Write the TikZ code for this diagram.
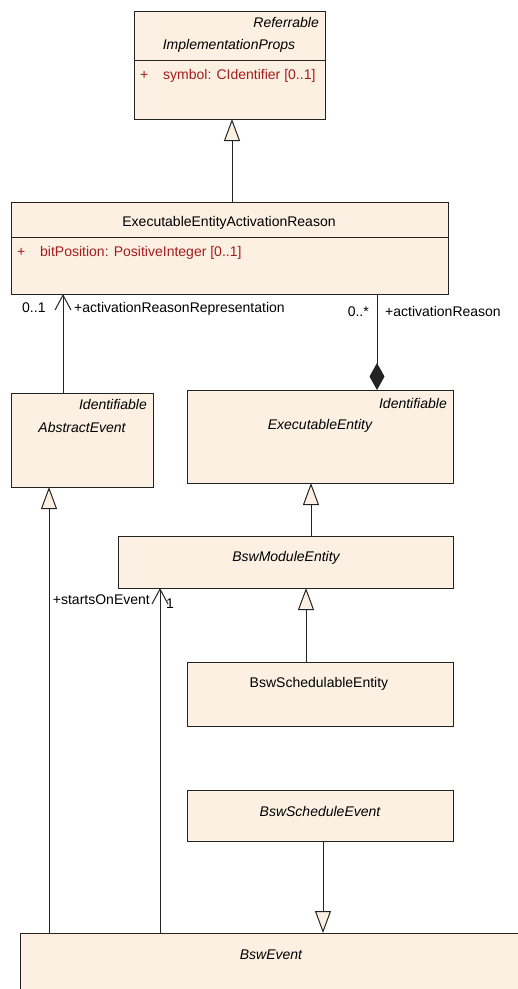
\documentclass[tikz,border=0pt]{standalone}
\usepackage{fontspec}
\setmainfont{Liberation Sans}
\usetikzlibrary{arrows.meta}
\definecolor{boxfill}{RGB}{251,240,226}
\definecolor{attr}{RGB}{165,28,28}
\definecolor{edge}{RGB}{35,35,35}
\begin{document}
\begin{tikzpicture}[x=1pt,y=-1pt,
  cls/.style={draw=edge, line width=1pt, fill=boxfill, rectangle, inner sep=0pt, outer sep=0pt, anchor=north west},
  sepline/.style={draw=edge, line width=1pt},
  txt/.style={inner sep=0pt, font=\fontsize{14}{16}\selectfont, anchor=base},
  ital/.style={inner sep=0pt, font=\fontsize{14}{16}\selectfont\itshape, anchor=base},
  atr/.style={inner sep=0pt, font=\fontsize{14}{16}\selectfont, text=attr, anchor=base west},
  gen/.style={draw=edge, line width=1pt, -{Triangle[length=22pt,width=16pt,fill=boxfill]}},
  nav/.style={draw=edge, line width=1pt, -{Straight Barb[length=15pt,width=16pt]}},
  comp/.style={draw=edge, line width=1pt, -{Diamond[length=27pt,width=15pt]}}
]
\useasboundingbox (0,0) rectangle (518,989);
% classes
\node[cls, minimum width=191pt, minimum height=108pt] (ip) at (134,11) {};
\node[cls, minimum width=437pt, minimum height=92pt] (eear) at (11,202) {};
\node[cls, minimum width=142pt, minimum height=94pt] (ae) at (11,393) {};
\node[cls, minimum width=266pt, minimum height=93pt] (ee) at (187,390) {};
\node[cls, minimum width=335pt, minimum height=52pt] (bme) at (118,536) {};
\node[cls, minimum width=266pt, minimum height=64pt] (bsche) at (187,662) {};
\node[cls, minimum width=266pt, minimum height=51pt] (bsev) at (187,790) {};
\node[cls, minimum width=502pt, minimum height=80pt] (bev) at (20,933) {};
% compartments
\draw[sepline] (134,60) -- (325,60);
\draw[sepline] (11,237) -- (448,237);
% texts
\node[ital, anchor=base east] (ipst) at (319,27) {Referrable};
\node[ital] (ipn) at (229,49) {ImplementationProps};
\node[atr] (ipp) at (140,79) {+};
\node[atr] (ipa) at (163,79) {symbol: CIdentifier [0..1]};
\node[txt] (eearn) at (229,226) {ExecutableEntityActivationReason};
\node[atr] (eearp) at (17,256) {+};
\node[atr] (eeara) at (40,256) {bitPosition: PositiveInteger [0..1]};
\node[txt, anchor=base west] (m1) at (22,312) {0..1};
\node[txt, anchor=base west] (r1) at (74,312) {+activationReasonRepresentation};
\node[txt, anchor=base east] (m2) at (369,316) {0..*};
\node[txt, anchor=base west] (r2) at (385,316) {+activationReason};
\node[ital, anchor=base east] (aest) at (147,409) {Identifiable};
\node[ital] (aen) at (82,432) {AbstractEvent};
\node[ital, anchor=base east] (eest) at (447,408) {Identifiable};
\node[ital] (een) at (320,429) {ExecutableEntity};
\node[ital] (bmen) at (286,561) {BswModuleEntity};
\node[txt, anchor=base east] (r3) at (150,604) {+startsOnEvent};
\node[txt, anchor=base west] (m3) at (166,608) {1};
\node[txt] (bschen) at (319,687) {BswSchedulableEntity};
\node[ital] (bsevn) at (320,816) {BswScheduleEvent};
\node[ital] (bevn) at (271,959) {BswEvent};
% columns
\coordinate (x232) at (232,0);
\coordinate (x63) at (63,0);
\coordinate (x377) at (377,0);
\coordinate (x311) at (311,0);
\coordinate (x306) at (306,0);
\coordinate (x49) at (49,0);
\coordinate (x160) at (160,0);
\coordinate (x323) at (323,0);
% connectors
\draw[gen] (eear.north -| x232) -- (ip.south -| x232);
\draw[nav] (ae.north -| x63) -- (eear.south -| x63);
\draw[comp] (eear.south -| x377) -- (ee.north -| x377);
\draw[gen] (bme.north -| x311) -- (ee.south -| x311);
\draw[gen] (bsche.north -| x306) -- (bme.south -| x306);
\draw[gen] (bev.north -| x49) -- (ae.south -| x49);
\draw[nav] (bev.north -| x160) -- (bme.south -| x160);
\draw[gen] (bsev.south -| x323) -- (bev.north -| x323);
\end{tikzpicture}
\end{document}
